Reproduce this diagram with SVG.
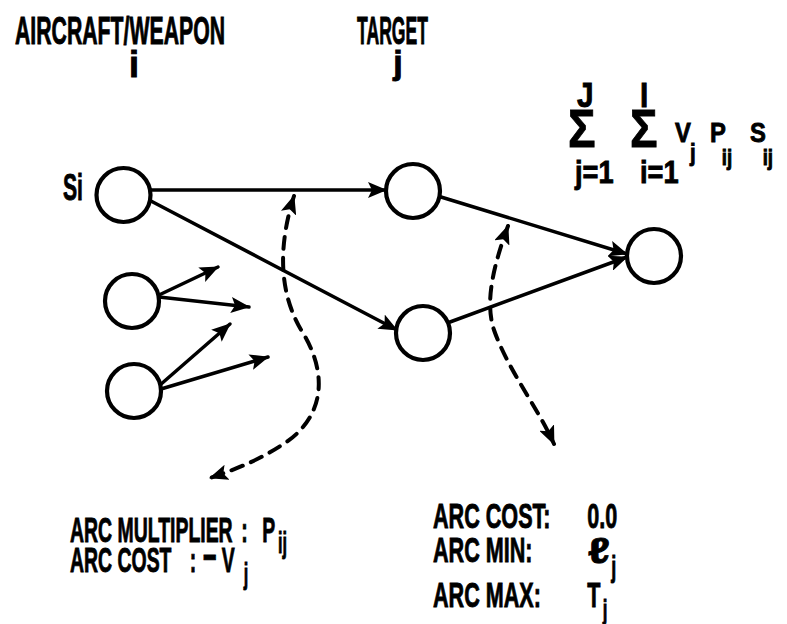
<svg xmlns="http://www.w3.org/2000/svg" width="787" height="624" viewBox="0 0 787 624">
<defs>
<style>
.node{fill:#fff;stroke:#000;stroke-width:4.2}
.edge{fill:none;stroke:#000;stroke-width:3.5;stroke-linecap:round}
.dash{fill:none;stroke:#000;stroke-width:4;stroke-dasharray:12 9;stroke-linecap:round}
text{font-family:"Liberation Sans","Arial",sans-serif;font-weight:bold;fill:#000;stroke:#000;stroke-width:0.9}
</style>
<marker id="ah" viewBox="0 0 19 16" refX="18" refY="8" markerWidth="19" markerHeight="16" markerUnits="userSpaceOnUse" orient="auto-start-reverse">
<path d="M0,0 L19,8 L0,16 L4,8 z" fill="#000"/>
</marker>
</defs>
<rect width="787" height="624" fill="#fff"/>

<g id="headers">
<text x="15" y="44" font-size="38" textLength="210" lengthAdjust="spacingAndGlyphs">AIRCRAFT/WEAPON</text>
<text x="134" y="77" font-size="36" text-anchor="middle">i</text>
<text x="357" y="44" font-size="38" textLength="71" lengthAdjust="spacingAndGlyphs">TARGET</text>
<text x="398" y="74" font-size="34" text-anchor="middle">j</text>
</g>

<g id="connectors">
<line class="edge" x1="151" y1="190" x2="386" y2="190" marker-end="url(#ah)"/>
<line class="edge" x1="149" y1="200" x2="397" y2="330" marker-end="url(#ah)"/>
<line class="edge" x1="441" y1="197" x2="627" y2="254" marker-end="url(#ah)"/>
<line class="edge" x1="450" y1="322" x2="627" y2="257" marker-end="url(#ah)"/>
<line class="edge" x1="159" y1="295" x2="218" y2="267" marker-end="url(#ah)"/>
<line class="edge" x1="159" y1="297" x2="249" y2="307" marker-end="url(#ah)"/>
<line class="edge" x1="160" y1="385" x2="230" y2="324" marker-end="url(#ah)"/>
<line class="edge" x1="161" y1="389" x2="268" y2="357" marker-end="url(#ah)"/>
<path class="dash" d="M 294 196 C 280 240, 276 290, 303 333 C 330 378, 322 420, 282 445 C 262 458, 240 468, 210 478" marker-start="url(#ah)" marker-end="url(#ah)"/>
<path class="dash" d="M 508 226 C 495 262, 484 300, 494 330 C 508 370, 538 408, 554 444" marker-start="url(#ah)" marker-end="url(#ah)"/>
</g>

<g id="node-si">
<circle class="node" cx="123.5" cy="195" r="27"/>
<text x="63" y="200" font-size="37" textLength="20" lengthAdjust="spacingAndGlyphs">Si</text>
</g>
<g id="node-a2"><circle class="node" cx="132" cy="301" r="27"/></g>
<g id="node-a3"><circle class="node" cx="134" cy="391" r="27"/></g>
<g id="node-t1"><circle class="node" cx="413" cy="191" r="27"/></g>
<g id="node-t2"><circle class="node" cx="423" cy="333" r="27"/></g>
<g id="node-sink"><circle class="node" cx="654" cy="256" r="27"/></g>

<g id="formula">
<text transform="translate(568 0) scale(0.85 1)"><tspan x="10.6" y="107" font-size="35">J</tspan><tspan x="0" y="147" font-size="54">Σ</tspan><tspan x="8.2" y="183" font-size="32">j=1</tspan><tspan x="84.7" y="107" font-size="35">I</tspan><tspan x="73" y="147" font-size="54">Σ</tspan><tspan x="84.7" y="183" font-size="32">i=1</tspan><tspan x="125.9" y="142" font-size="28">V</tspan><tspan x="143.5" y="161" font-size="24">j</tspan><tspan x="167" y="142" font-size="28">P</tspan><tspan x="181" y="165" font-size="22">ij</tspan><tspan x="214" y="142" font-size="28">S</tspan><tspan x="229" y="165" font-size="22">ij</tspan></text>
</g>

<g id="label-left">
<text transform="translate(70 0) scale(0.54 1)" font-size="36"><tspan x="0" y="542">ARC MULTIPLIER</tspan><tspan x="317" y="542">:</tspan><tspan x="356" y="542">P</tspan><tspan x="385" y="553" font-size="30">ij</tspan><tspan x="0" y="572">ARC COST</tspan><tspan x="222" y="572">:</tspan><tspan x="246" y="572" font-size="44">−</tspan><tspan x="281" y="572">V</tspan><tspan x="322" y="584" font-size="30">j</tspan></text>
</g>

<g id="label-right">
<text transform="translate(433 0) scale(0.6 1)" font-size="36"><tspan x="0" y="528">ARC COST:</tspan><tspan x="257" y="528">0.0</tspan><tspan x="0" y="562">ARC MIN:</tspan><tspan x="297" y="577" font-size="30">j</tspan><tspan x="0" y="607">ARC MAX:</tspan><tspan x="257" y="607">T</tspan><tspan x="283" y="619" font-size="28">j</tspan></text>
<text x="588" y="563" font-size="36" textLength="22" lengthAdjust="spacingAndGlyphs">ℓ</text>
</g>
</svg>
